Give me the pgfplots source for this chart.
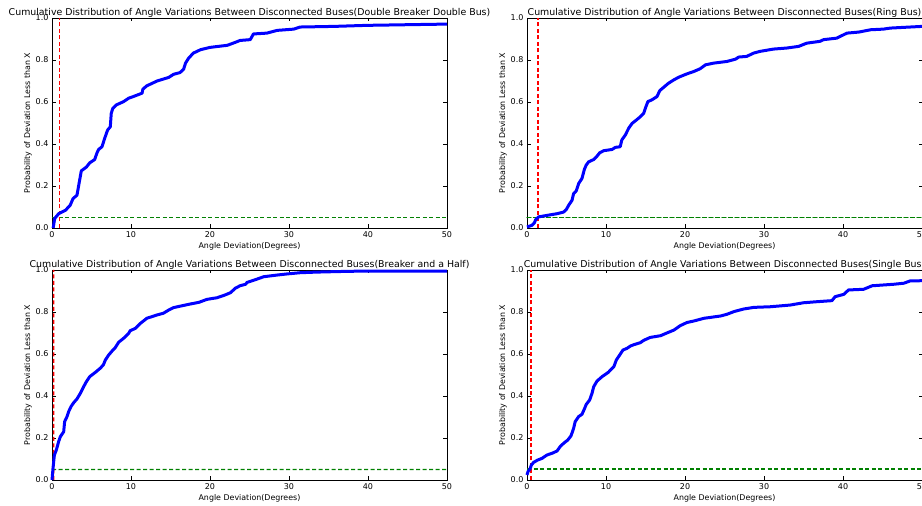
\documentclass[border=0pt]{standalone}
\usepackage{fontspec}
\setmainfont{DejaVu Sans}
\usepackage{pgfplots}
\pgfplotsset{compat=1.18}
\definecolor{mblue}{RGB}{0,0,255}
\definecolor{mred}{RGB}{255,0,0}
\definecolor{mgreen}{RGB}{0,128,0}
\pgfplotsset{
  cdfax/.style={
    scale only axis, width=395pt, height=210pt,
    xmin=0, xmax=50, ymin=0, ymax=1,
    xtick={0,10,20,30,40,50}, ytick={0,0.2,0.4,0.6,0.8,1.0},
    tick align=inside, major tick length=3.5pt,
    tick style={black, line width=0.6pt},
    axis line style={black, line width=0.8pt},
    /pgf/number format/assume math mode=true,
    ticklabel style={font=\fontsize{8}{9}\selectfont},
    yticklabel style={/pgf/number format/.cd, fixed, fixed zerofill, precision=1},
    xlabel={Angle Deviation(Degrees)},
    ylabel={Probability of Deviation Less than X},
    label style={font=\fontsize{7.9}{9}\selectfont},
    xlabel style={yshift=2pt},
    ylabel style={yshift=-3pt},
    title style={font=\fontsize{9.4}{11}\selectfont, anchor=base, yshift=-3.7pt},
    clip=false,
  },
  cdfred/.style={draw=mred, no marks, line width=1.4pt, dash pattern=on 4pt off 2.5pt},
  cdfgreen/.style={draw=mgreen, no marks, line width=1.4pt, dash pattern=on 4pt off 2.5pt},
  cdfblue/.style={draw=mblue, no marks, line width=3pt, line join=round},
}
\begin{document}
\begin{tikzpicture}[x=1pt,y=1pt]
% Top-left: Double Breaker Double Bus
\begin{axis}[cdfax, at={(52pt,278pt)}, anchor=south west,
  title={Cumulative Distribution of Angle Variations Between Disconnected Buses(Double Breaker Double Bus)}]
\addplot[cdfgreen, draw opacity=0.99] coordinates {(0,0.05) (50,0.05)};
\addplot[cdfred, draw opacity=0.99] coordinates {(0.95,0) (0.95,1)};
\addplot[cdfblue] coordinates {
(0.15,0) (0.34,0.045) (0.84,0.068) (1.69,0.084) (2.3,0.108) (2.66,0.14) (3.16,0.156)
(3.5,0.228) (3.71,0.272) (4.35,0.29) (4.77,0.31) (5.4,0.326) (5.7,0.358) (5.9,0.374)
(6.33,0.387) (6.6,0.419) (6.88,0.45) (7.05,0.467) (7.38,0.482) (7.5,0.546) (7.7,0.57)
(8.14,0.586) (9.07,0.602) (9.7,0.618) (10.3,0.626) (11.4,0.642) (11.5,0.661) (12.0,0.677)
(13.3,0.70) (14.77,0.717) (15.4,0.732) (16.2,0.74) (16.66,0.756) (16.9,0.785) (17.3,0.809)
(17.9,0.833) (18.8,0.849) (20.0,0.86) (22.2,0.87) (23.2,0.884) (23.8,0.893) (25.1,0.897)
(25.5,0.924) (27.2,0.928) (28.5,0.941) (30.6,0.947) (31.4,0.957) (35.7,0.96) (39.9,0.965)
(50,0.971)};
\end{axis}
% Top-right: Ring Bus
\begin{axis}[cdfax, at={(527pt,278pt)}, anchor=south west,
  title={Cumulative Distribution of Angle Variations Between Disconnected Buses(Ring Bus)}]
\addplot[cdfgreen, line cap=round] coordinates {(0,0.05) (50,0.05)};
\addplot[cdfred] coordinates {(1.4,0) (1.4,1)};
\addplot[cdfblue] coordinates {
(0,0.005) (0.63,0.013) (0.93,0.024) (1.1,0.04) (1.48,0.053) (2.53,0.06) (3.8,0.068)
(4.64,0.076) (4.98,0.088) (5.27,0.108) (5.7,0.132) (5.9,0.164) (6.24,0.177) (6.54,0.212)
(6.96,0.236) (7.26,0.279) (7.5,0.3) (7.8,0.315) (8.44,0.326) (8.86,0.342) (9.2,0.358)
(9.7,0.368) (10.76,0.374) (11.2,0.384) (11.8,0.387) (12.0,0.419) (12.45,0.443) (12.87,0.475)
(13.3,0.498) (13.84,0.514) (14.35,0.53) (14.77,0.546) (14.98,0.57) (15.3,0.602) (15.8,0.61)
(16.46,0.626) (16.8,0.654) (17.3,0.67) (17.9,0.689) (18.57,0.705) (19.2,0.718) (20.25,0.734)
(21.1,0.745) (21.9,0.758) (22.6,0.777) (23.6,0.785) (25.3,0.793) (26.4,0.804) (26.8,0.814)
(27.8,0.817) (28.7,0.833) (29.5,0.841) (31.2,0.852) (32.9,0.857) (34.4,0.865) (35.4,0.88)
(37.1,0.889) (37.55,0.897) (39.2,0.904) (40.5,0.928) (42.0,0.933) (43.5,0.944) (45.1,0.947)
(46.0,0.952) (50,0.96)};
\end{axis}
% Bottom-left: Breaker and a Half
\begin{axis}[cdfax, at={(52pt,26pt)}, anchor=south west,
  title={Cumulative Distribution of Angle Variations Between Disconnected Buses(Breaker and a Half)}]
\addplot[cdfgreen] coordinates {(0,0.0501) (50,0.0499)};
\addplot[cdfred] coordinates {(0.2,0) (0.201,1)};
\addplot[cdfblue] coordinates {
(0,0) (0.13,0.056) (0.3,0.119) (0.55,0.143) (0.84,0.183) (1.05,0.206) (1.48,0.23)
(1.6,0.278) (1.9,0.302) (2.1,0.325) (2.4,0.349) (2.74,0.368) (3.16,0.386) (3.59,0.413)
(4.0,0.444) (4.35,0.468) (4.77,0.492) (5.5,0.513) (6.1,0.532) (6.5,0.548) (6.75,0.571)
(7.17,0.595) (7.6,0.614) (8.0,0.63) (8.44,0.656) (9.07,0.675) (9.7,0.698) (9.9,0.711)
(10.55,0.722) (11.2,0.746) (12.0,0.77) (13.3,0.786) (14.1,0.794) (14.8,0.81) (15.4,0.821)
(16.5,0.83) (17.5,0.838) (18.6,0.846) (19.6,0.86) (20.9,0.868) (21.9,0.881) (22.6,0.892)
(23.2,0.913) (23.8,0.925) (24.5,0.932) (24.7,0.941) (25.9,0.956) (26.8,0.968) (28.5,0.976)
(29.7,0.981) (31.4,0.987) (33.5,0.99) (37.8,0.994) (50,0.995)};
\end{axis}
% Bottom-right: Single Bus
\begin{axis}[cdfax, at={(527pt,26pt)}, anchor=south west,
  title={Cumulative Distribution of Angle Variations Between Disconnected Buses(Single Bus)}]
\addplot[cdfgreen, line width=2pt] coordinates {(0,0.05) (50,0.05)};
\addplot[cdfred, line width=2pt] coordinates {(0.55,0) (0.55,1)};
\addplot[cdfblue] coordinates {
(0,0.024) (0.13,0.04) (0.42,0.056) (0.55,0.071) (0.84,0.084) (1.35,0.095) (1.9,0.103)
(2.53,0.119) (3.16,0.127) (3.8,0.138) (4.2,0.159) (4.64,0.175) (5.15,0.19) (5.57,0.21)
(5.9,0.246) (6.1,0.278) (6.54,0.302) (6.96,0.313) (7.26,0.338) (7.5,0.36) (7.93,0.381)
(8.23,0.413) (8.44,0.444) (8.86,0.471) (9.5,0.492) (10.3,0.513) (11.0,0.54) (11.3,0.571)
(11.73,0.595) (12.15,0.619) (12.66,0.627) (13.1,0.638) (13.5,0.644) (14.35,0.654) (14.77,0.665)
(15.6,0.679) (16.9,0.687) (17.7,0.7) (18.6,0.714) (19.4,0.735) (20.25,0.75) (21.1,0.757)
(22.4,0.77) (24.5,0.781) (25.3,0.789) (26.2,0.802) (27.4,0.814) (28.7,0.822) (30.8,0.825)
(33.3,0.833) (35.0,0.844) (36.7,0.849) (38.6,0.854) (39.0,0.873) (40.1,0.884) (40.7,0.905)
(42.6,0.908) (43.7,0.925) (46.4,0.932) (47.7,0.937) (48.5,0.948) (50,0.949)};
\end{axis}
\pgfresetboundingbox
\useasboundingbox (0pt,0pt) rectangle (922pt,506pt);
\end{tikzpicture}
\end{document}
